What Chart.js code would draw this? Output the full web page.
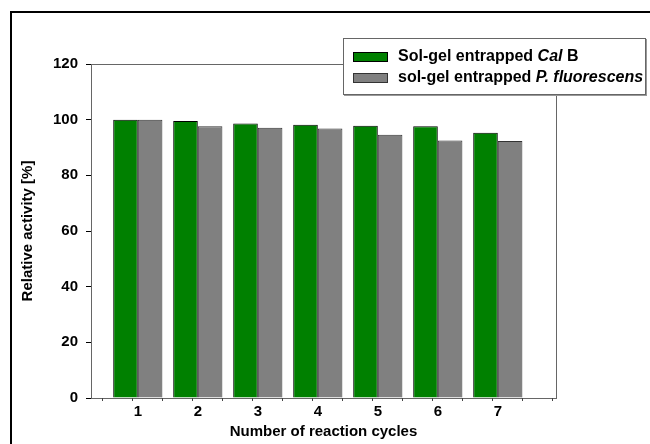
<!DOCTYPE html>
<html>
<head>
<meta charset="utf-8">
<script src="https://cdn.jsdelivr.net/npm/chart.js@4/dist/chart.umd.min.js"></script>
<style>
  html, body { margin: 0; padding: 0; background: #fff; }
  #wrap { width: 650px; height: 444px; position: relative; }
</style>
</head>
<body>
<div id="wrap"><canvas id="chart" width="650" height="444"></canvas></div>
<script>
// Data
const cycles = [1, 2, 3, 4, 5, 6, 7];
const calB = [100, 99.5, 98.6, 98.2, 97.8, 97.6, 95.3];
const pFluorescens = [100, 97.6, 97.1, 96.8, 94.6, 92.5, 92.3];
const yTickValues = [0, 20, 40, 60, 80, 100, 120];

const seriesNames = [
    [{ t: 'Sol-gel entrapped ', i: false }, { t: 'Cal', i: true }, { t: ' B', i: false }],
    [{ t: 'sol-gel entrapped ', i: false }, { t: 'P. fluorescens', i: true }]
];
const seriesColors = ['#008000', '#808080'];
const seriesBorders = ['#000000', '#333333'];

const FONT = '"Liberation Sans", Arial, sans-serif';

// Outer border, plot frame, little x ticks and the legend box
const decor = {
    id: 'decor',
    beforeDraw(chart) {
        const ctx = chart.ctx;
        ctx.save();
        ctx.fillStyle = '#fff';
        ctx.fillRect(0, 0, chart.width, chart.height);
        ctx.strokeStyle = '#000';
        ctx.lineWidth = 2;
        ctx.beginPath();
        ctx.moveTo(11, chart.height);
        ctx.lineTo(11, 12);
        ctx.lineTo(chart.width, 12);
        ctx.stroke();
        ctx.restore();
    },
    afterDraw(chart) {
        const ctx = chart.ctx;
        const a = chart.chartArea;
        const xs = chart.scales.x;
        ctx.save();
        // plot frame
        ctx.strokeStyle = '#666';
        ctx.lineWidth = 1;
        ctx.strokeRect(Math.round(a.left) + 0.5, Math.round(a.top) + 0.5,
            Math.round(a.right - a.left), Math.round(a.bottom - a.top));
        // small ticks under the x axis
        ctx.strokeStyle = '#444';
        ctx.beginPath();
        for (let v = 0.41; v < xs.max; v += 0.5) {
            const px = Math.round(xs.getPixelForValue(v)) + 0.5;
            ctx.moveTo(px, a.bottom);
            ctx.lineTo(px, a.bottom + 3);
        }
        ctx.stroke();

        // legend box
        const bx = 343, by = 38, bw = 302, bh = 56;
        ctx.fillStyle = '#999';
        ctx.fillRect(bx + 1, by + 1, bw + 1, bh + 1);
        ctx.fillStyle = '#fff';
        ctx.fillRect(bx, by, bw, bh);
        ctx.strokeStyle = '#666';
        ctx.strokeRect(bx + 0.5, by + 0.5, bw, bh);

        const rows = [57, 78];
        rows.forEach((cy, k) => {
            ctx.fillStyle = seriesColors[k];
            ctx.fillRect(353, cy - 5, 35, 10);
            ctx.strokeStyle = seriesBorders[k];
            ctx.strokeRect(353.5, cy - 4.5, 34, 9);
            let tx = 398;
            ctx.fillStyle = '#000';
            ctx.textBaseline = 'middle';
            ctx.textAlign = 'left';
            seriesNames[k].forEach(seg => {
                ctx.font = (seg.i ? 'italic ' : '') + 'bold 16px ' + FONT;
                ctx.fillText(seg.t, tx, cy);
                tx += ctx.measureText(seg.t).width;
            });
        });
        ctx.restore();
    }
};

const ctx = document.getElementById('chart').getContext('2d');
new Chart(ctx, {
    type: 'bar',
    data: {
        datasets: [
            {
                label: 'Sol-gel entrapped Cal B',
                data: cycles.map((c, i) => ({ x: c, y: calB[i] })),
                backgroundColor: seriesColors[0],
                borderColor: seriesBorders[0],
                borderWidth: 1
            },
            {
                label: 'sol-gel entrapped P. fluorescens',
                data: cycles.map((c, i) => ({ x: c, y: pFluorescens[i] })),
                backgroundColor: seriesColors[1],
                borderColor: seriesBorders[1],
                borderWidth: 1
            }
        ]
    },
    options: {
        responsive: false,
        animation: false,
        events: [],
        layout: { padding: { left: 0, top: 64, right: 94, bottom: 0 } },
        datasets: { bar: { categoryPercentage: 0.82, barPercentage: 1.0 } },
        plugins: {
            legend: { display: false },
            tooltip: { enabled: false }
        },
        scales: {
            x: {
                type: 'linear',
                min: 0.22,
                max: 7.97,
                offset: false,
                afterBuildTicks: s => { s.ticks = cycles.map(v => ({ value: v })); },
                afterFit: s => { s.height = 46; },
                grid: { display: false, drawTicks: false },
                border: { display: false },
                ticks: {
                    padding: 5,
                    color: '#000',
                    font: { family: FONT, size: 15, weight: 'bold' },
                    callback: v => String(v)
                },
                title: {
                    display: true,
                    text: 'Number of reaction cycles',
                    color: '#000',
                    font: { family: FONT, size: 15, weight: 'bold' },
                    padding: { top: 0, bottom: 3 }
                }
            },
            y: {
                min: 0,
                max: 120,
                afterBuildTicks: s => { s.ticks = yTickValues.map(v => ({ value: v })); },
                afterFit: s => { s.width = 91; },
                grid: { display: true, drawOnChartArea: false, drawTicks: true, tickLength: 5, color: '#000' },
                border: { display: false },
                ticks: {
                    padding: 8,
                    color: '#000',
                    font: { family: FONT, size: 15, weight: 'bold' }
                },
                title: {
                    display: true,
                    text: 'Relative activity [%]',
                    color: '#000',
                    font: { family: FONT, size: 15, weight: 'bold' },
                    padding: { top: 19, bottom: 0 }
                }
            }
        }
    },
    plugins: [decor]
});
</script>
</body>
</html>
